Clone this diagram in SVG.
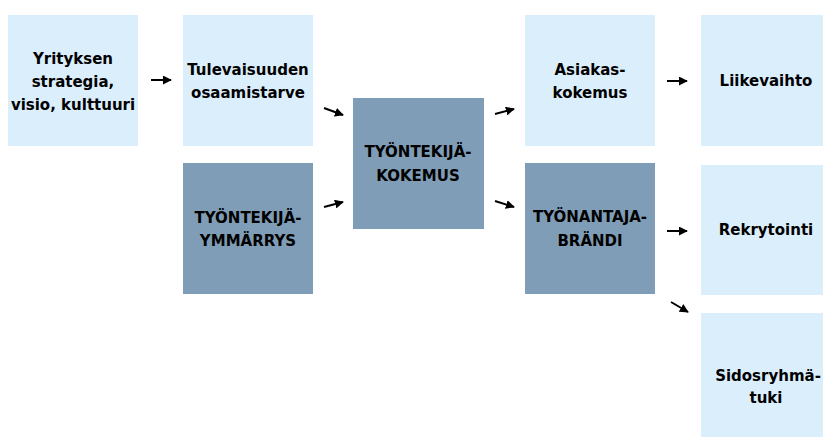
<svg xmlns="http://www.w3.org/2000/svg" width="823" height="437" viewBox="0 0 823 437">
  <style>
    .light { fill: #dbeefc; }
    .dark { fill: #7f9db6; }
    text { font-family: "DejaVu Sans", Verdana, sans-serif; font-weight: bold; font-size: 15px; fill: #000; text-anchor: middle; }
    .conn { stroke: #000; stroke-width: 2; fill: none; marker-end: url(#head); }
  </style>
  <defs>
    <marker id="head" viewBox="0 0 10 10" refX="9" refY="5" markerWidth="4.5" markerHeight="4.5" orient="auto" markerUnits="strokeWidth">
      <path d="M0,0 L10,5 L0,10 Z" fill="#000"/>
    </marker>
  </defs>

  <g id="strategia">
    <rect class="light" x="8" y="15" width="130" height="131"/>
    <text x="73" y="64">Yrityksen</text>
    <text x="73" y="87">strategia,</text>
    <text x="73" y="110">visio, kulttuuri</text>
  </g>
  <g id="osaamistarve">
    <rect class="light" x="183" y="15" width="130" height="131"/>
    <text x="248" y="75">Tulevaisuuden</text>
    <text x="248" y="98">osaamistarve</text>
  </g>
  <g id="ymmarrys">
    <rect class="dark" x="183" y="163" width="130" height="131"/>
    <text x="248" y="223">TYÖNTEKIJÄ-</text>
    <text x="248" y="246">YMMÄRRYS</text>
  </g>
  <g id="kokemus">
    <rect class="dark" x="353" y="98" width="131" height="131"/>
    <text x="418" y="157">TYÖNTEKIJÄ-</text>
    <text x="418" y="181">KOKEMUS</text>
  </g>
  <g id="asiakaskokemus">
    <rect class="light" x="525" y="15" width="130" height="131"/>
    <text x="590" y="75">Asiakas-</text>
    <text x="590" y="98">kokemus</text>
  </g>
  <g id="tyonantajabrandi">
    <rect class="dark" x="525" y="163" width="130" height="131"/>
    <text x="590" y="222">TYÖNANTAJA-</text>
    <text x="590" y="246">BRÄNDI</text>
  </g>
  <g id="liikevaihto">
    <rect class="light" x="701" y="15" width="122" height="131"/>
    <text x="766" y="86">Liikevaihto</text>
  </g>
  <g id="rekrytointi">
    <rect class="light" x="701" y="165" width="122" height="130"/>
    <text x="766" y="235">Rekrytointi</text>
  </g>
  <g id="sidosryhmatuki">
    <rect class="light" x="701" y="313" width="122" height="124"/>
    <text x="768" y="381">Sidosryhmä-</text>
    <text x="766" y="403">tuki</text>
  </g>

  <g id="connectors">
    <line class="conn" x1="151" y1="80" x2="171" y2="80"/>
    <line class="conn" x1="324" y1="108" x2="343" y2="115"/>
    <line class="conn" x1="324" y1="207" x2="343" y2="202"/>
    <line class="conn" x1="495" y1="114" x2="514" y2="109"/>
    <line class="conn" x1="495" y1="201" x2="514" y2="207"/>
    <line class="conn" x1="667" y1="81" x2="687" y2="81"/>
    <line class="conn" x1="667" y1="231" x2="687" y2="231"/>
    <line class="conn" x1="671" y1="302" x2="688" y2="312"/>
  </g>
</svg>
